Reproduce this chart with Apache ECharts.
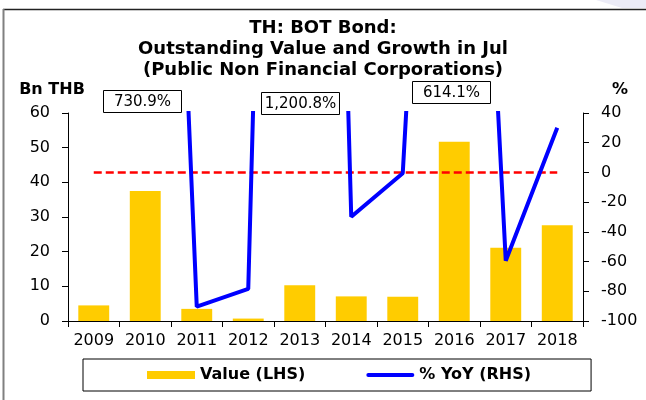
<!DOCTYPE html>
<html>
<head>
<meta charset="utf-8">
<script src="https://cdn.jsdelivr.net/npm/echarts@6/dist/echarts.min.js"></script>
<style>
html,body{margin:0;padding:0;background:#fff;}
#main{width:646px;height:400px;}
</style>
</head>
<body>
<div id="main"></div>
<script>
// 年份 (X軸)
let years = ['2009', '2010', '2011', '2012', '2013', '2014', '2015', '2016', '2017', '2018'];
// 餘額 Bn THB (左軸)
let valueData = [4.5, 37.5, 3.5, 0.7, 10.3, 7.1, 7.0, 51.7, 21.1, 27.6];
// YoY % (右軸)，超出範圍的值用框標示
let yoyData = [null, 730.9, -90.3, -78.4, 1200.8, -29.8, -0.5, 614.1, -59.4, 30.1];
let calloutYears = ['2010', '2013', '2016'];
// 軸刻度 [min, max, interval]
let leftScale = [0, 60, 10];
let rightScale = [-100, 40, 20];

let FONT = 'DejaVu Sans';
let myChart = echarts.init(document.getElementById('main'));

let option = {
    animation: false,
    textStyle: { fontFamily: FONT },
    title: {
        text: 'TH: BOT Bond:\nOutstanding Value and Growth in Jul\n(Public Non Financial Corporations)',
        left: 'center',
        top: 18,
        padding: 0,
        textStyle: {
            fontFamily: FONT,
            fontSize: 18,
            fontWeight: 'bold',
            color: '#000',
            lineHeight: 21
        }
    },
    legend: {
        left: 83,
        top: 359,
        padding: [8, 60, 8, 64],
        itemGap: 61,
        itemWidth: 48,
        itemHeight: 8,
        borderColor: '#000',
        borderWidth: 1,
        data: [
            { name: 'Value (LHS)', icon: 'rect' },
            // 只畫線，不要圓點
            { name: '% YoY (RHS)', icon: 'path://M2,0 H46 A2,2 0 0 1 46,4 H2 A2,2 0 0 1 2,0 Z' }
        ],
        textStyle: { fontFamily: FONT, fontSize: 16, fontWeight: 'bold', color: '#000' }
    },
    grid: {
        left: 68,
        right: 63,
        top: 113,
        bottom: 79
    },
    xAxis: {
        type: 'category',
        data: years,
        axisLine: { lineStyle: { color: '#000', width: 1 } },
        axisTick: { show: true, length: 6, lineStyle: { color: '#000' } },
        axisLabel: { color: '#000', fontSize: 16, fontFamily: FONT, margin: 12, interval: 0 }
    },
    yAxis: [
        {
            type: 'value',
            min: leftScale[0],
            max: leftScale[1],
            interval: leftScale[2],
            name: 'Bn THB',
            nameLocation: 'end',
            nameGap: 15,
            nameTextStyle: {
                fontFamily: FONT, fontSize: 16, fontWeight: 'bold', color: '#000',
                align: 'center', padding: [0, 32, 0, 0]
            },
            splitLine: { show: false },
            axisLine: { show: true, lineStyle: { color: '#000', width: 1 } },
            axisTick: { show: true, length: 6, lineStyle: { color: '#000' } },
            axisLabel: { color: '#000', fontSize: 16, fontFamily: FONT, margin: 18 }
        },
        {
            type: 'value',
            min: rightScale[0],
            max: rightScale[1],
            interval: rightScale[2],
            name: '%',
            nameLocation: 'end',
            nameGap: 15,
            nameTextStyle: {
                fontFamily: FONT, fontSize: 16, fontWeight: 'bold', color: '#000',
                align: 'left', padding: [0, 0, 0, 29]
            },
            splitLine: { show: false },
            axisLine: { show: true, lineStyle: { color: '#000', width: 1 } },
            axisTick: { show: true, length: 6, lineStyle: { color: '#000' } },
            axisLabel: { color: '#000', fontSize: 16, fontFamily: FONT, margin: 18 }
        }
    ],
    series: [
        {
            name: 'Value (LHS)',
            type: 'bar',
            data: valueData,
            barWidth: '60%',
            itemStyle: { color: '#FFCC00' }
        },
        {
            name: '% YoY (RHS)',
            type: 'line',
            yAxisIndex: 1,
            data: yoyData,
            symbol: 'none',
            showSymbol: false,
            clip: true,
            color: '#0000FF',
            lineStyle: { width: 4, color: '#0000FF' },
            z: 5,
            // 0% 紅色虛線
            markLine: {
                silent: true,
                symbol: 'none',
                label: { show: false },
                lineStyle: { color: '#FF0000', type: [8, 4], width: 2.5 },
                data: [[{ coord: [years[0], 0] }, { coord: [years[years.length - 1], 0] }]],
                z: 4
            }
        }
    ]
};
myChart.setOption(option);

// 外框
let border = [
    { type: 'polygon', shape: { points: [[596, 0], [646, 0], [646, 8], [622, 8]] }, style: { fill: '#ECECF7' }, silent: true },
    { type: 'line', shape: { x1: 3, y1: 9.5, x2: 646, y2: 9.5 }, style: { stroke: '#222', lineWidth: 1.5 }, silent: true },
    { type: 'line', shape: { x1: 3.5, y1: 9, x2: 3.5, y2: 400 }, style: { stroke: '#808080', lineWidth: 2 }, silent: true }
];

// 標示框: [x偏移, 上緣y]
let boxPos = [[-3, 90], [0, 92], [-3, 81]];
let boxes = calloutYears.map(function (y, i) {
    let idx = years.indexOf(y);
    let cx = myChart.convertToPixel({ xAxisIndex: 0 }, y);
    let txt = yoyData[idx].toLocaleString('en-US', { minimumFractionDigits: 1 }) + '%';
    return {
        type: 'group',
        x: Math.round(cx + boxPos[i][0] - 39) + 0.5,
        y: boxPos[i][1] + 0.5,
        silent: true,
        children: [
            { type: 'rect', shape: { x: 0, y: 0, width: 78, height: 22 }, style: { fill: '#fff', stroke: '#000', lineWidth: 1 } },
            { type: 'text', x: 39, y: 11.5, style: { text: txt, font: '15px "DejaVu Sans"', fill: '#000', align: 'center', verticalAlign: 'middle' } }
        ]
    };
});
myChart.setOption({ graphic: border.concat(boxes) });
</script>
</body>
</html>
